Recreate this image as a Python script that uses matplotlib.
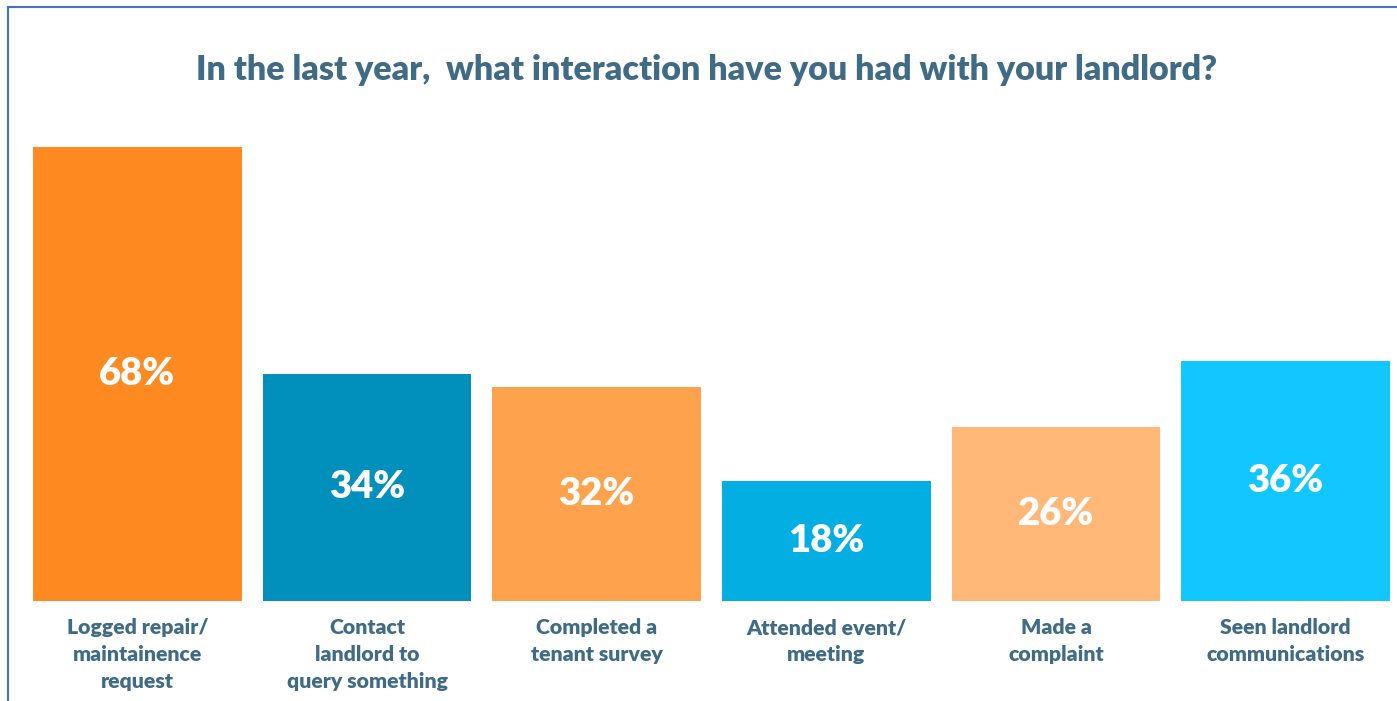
import matplotlib.pyplot as plt
from matplotlib.lines import Line2D

# Данные опроса
categories = ['Logged repair/\nmaintainence\nrequest',
              'Contact\nlandlord to\nquery something',
              'Completed a\ntenant survey',
              'Attended event/\nmeeting',
              'Made a\ncomplaint',
              'Seen landlord\ncommunications']
values = [68, 34, 32, 18, 26, 36]
colors = ['#FF8A22', '#0190BC', '#FFA24E', '#03AFE2', '#FFB877', '#12C6FF']

title = 'In the last year,  what interaction have you had with your landlord?'
text_color = '#3F6B84'

plt.rcParams['font.family'] = ['Lato', 'DejaVu Sans']

fig = plt.figure(figsize=(13.97, 7.01), dpi=100)
ax = fig.add_axes([33 / 1397, 100 / 701, 1357 / 1397, 454 / 701])

x = list(range(len(values)))
width = 0.909
bars = ax.bar(x, values, width=width, color=colors)

# Подписи значений в центре столбцов
for xi, v in zip(x, values):
    ax.text(xi, v / 2, f'{v}%', ha='center', va='center',
            color='white', fontsize=27.5, fontweight='heavy')

ax.set_xlim(-width / 2, len(values) - 1 + width / 2)
ax.set_ylim(0, 68)
ax.set_xticks(x)
ax.set_xticklabels(categories, fontsize=15.3, fontweight='heavy',
                   color=text_color, linespacing=1.48)
ax.tick_params(axis='x', length=0, pad=12.5)
ax.set_yticks([])
for s in ax.spines.values():
    s.set_visible(False)

fig.text(707 / 1397, 1 - 70 / 701, title, ha='center', va='center',
         fontsize=24.5, fontweight='heavy', color=text_color)

# Рамка слайда
fig.add_artist(Line2D([8 / 1397, 1], [1 - 7 / 701, 1 - 7 / 701],
                      transform=fig.transFigure, color='#4472C4', lw=1.5))
fig.add_artist(Line2D([8 / 1397, 8 / 1397], [0, 1 - 7 / 701],
                      transform=fig.transFigure, color='#4472C4', lw=1.5))

plt.savefig('out.png', dpi=100)
